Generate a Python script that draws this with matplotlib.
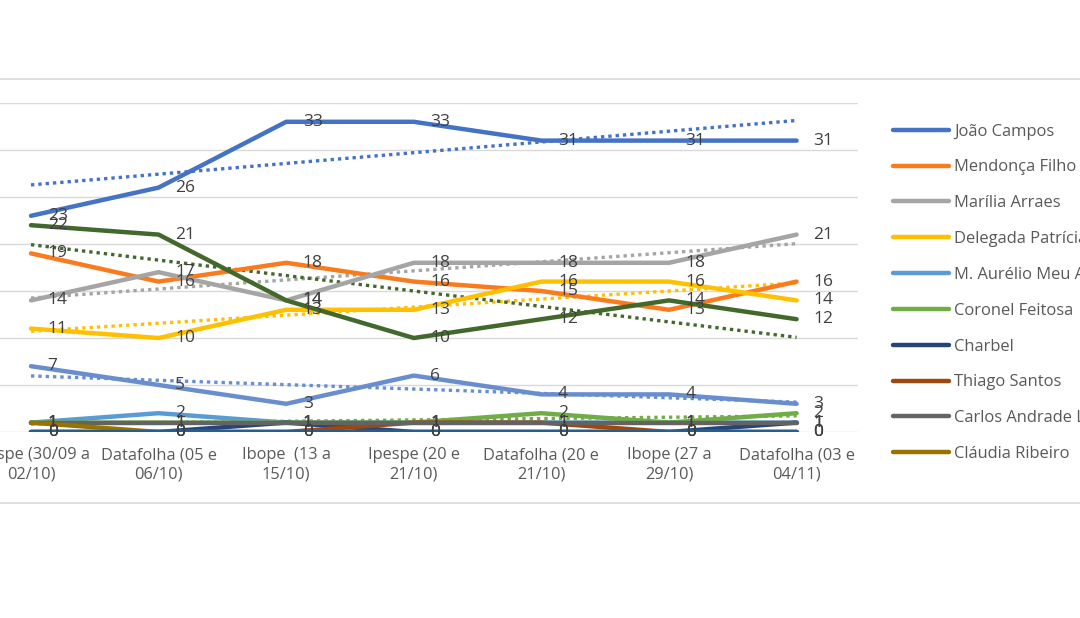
import numpy as np
import matplotlib
matplotlib.use("Agg")
import matplotlib.pyplot as plt
from matplotlib.lines import Line2D

plt.rcParams['font.family'] = ['Open Sans', 'DejaVu Sans']

categories = ["Ipespe (30/09 a\n02/10)", "Datafolha (05 e\n06/10)", "Ibope  (13 a\n15/10)",
              "Ipespe (20 e\n21/10)", "Datafolha (20 e\n21/10)", "Ibope (27 a\n29/10)",
              "Datafolha (03 e\n04/11)"]

joao_campos = [23, 26, 33, 33, 31, 31, 31]
mendonca_filho = [19, 16, 18, 16, 15, 13, 16]
marilia_arraes = [14, 17, 14, 18, 18, 18, 21]
delegada_patricia = [11, 10, 13, 13, 16, 16, 14]
m_aurelio = [1, 2, 1, 1, 1, 1, 1]
coronel_feitosa = [1, 1, 1, 1, 2, 1, 2]
charbel = [0, 0, 1, 0, 0, 0, 1]
thiago_santos = [0, 0, 0, 1, 1, 0, 0]
carlos_andrade = [1, 1, 1, 1, 1, 1, 1]
claudia_ribeiro = [1, 0, 0, 0, 0, 0, 0]
serie_11 = [0, 0, 0, 0, 0, 0, 0]
serie_12 = [22, 21, 14, 10, 12, 14, 12]
serie_13 = [7, 5, 3, 6, 4, 4, 3]

series = [
    ("João Campos", joao_campos, "#4472C4", True, True),
    ("Mendonça Filho", mendonca_filho, "#FA7A1E", True, False),
    ("Marília Arraes", marilia_arraes, "#A5A5A5", True, True),
    ("Delegada Patrícia", delegada_patricia, "#FFC000", True, True),
    ("M. Aurélio Meu Amigo", m_aurelio, "#5B9BD5", True, False),
    ("Coronel Feitosa", coronel_feitosa, "#70AD47", True, True),
    ("Charbel", charbel, "#264478", True, False),
    ("Thiago Santos", thiago_santos, "#9E480E", True, False),
    ("Carlos Andrade Lima", carlos_andrade, "#636363", True, False),
    ("Cláudia Ribeiro", claudia_ribeiro, "#997300", True, False),
    ("Série 11", serie_11, "#255E91", False, False),
    ("Série 12", serie_12, "#43682B", False, True),
    ("Série 13", serie_13, "#698ED0", False, True),
]

W, H = 1080, 618
fig = plt.figure(figsize=(W / 100, H / 100), dpi=100)
ax_left, ax_right = 0, 858
ax_bottom, ax_top = 432, 103
ax = fig.add_axes([ax_left / W, (H - ax_bottom) / H, (ax_right - ax_left) / W,
                   (ax_bottom - ax_top) / H])
x = np.arange(len(categories))
step = 127.6
ax.set_xlim(-31 / step, (ax_right - 31) / step)
ax.set_ylim(0, 35)
for s in ax.spines.values():
    s.set_visible(False)
ax.set_yticks(np.arange(0, 36, 5))
ax.tick_params(axis='y', left=False, labelleft=False)
ax.grid(axis='y', color='#D9D9D9', lw=1)
ax.set_axisbelow(True)
ax.set_xticks(x)
ax.set_xticklabels(categories, fontsize=11.8, color='#595959', linespacing=1.3)
ax.tick_params(axis='x', length=0, pad=11)

handles = []
for name, vals, color, in_leg, trend in series:
    ax.plot(x, vals, color=color, lw=3.2, solid_capstyle='round',
            solid_joinstyle='round', zorder=3)
    if in_leg:
        handles.append(Line2D([0], [0], color=color, lw=3.2, solid_capstyle='round', label=name))
    if trend:
        coef = np.polyfit(x, vals, 1)
        ax.plot(x, np.polyval(coef, x), color=color, lw=2.4, linestyle=(0, (1, 1.2)), zorder=2)
    for xi, v in zip(x, vals):
        ax.annotate(str(v), (xi, v), xytext=(12, 0), textcoords='offset points',
                    ha='left', va='center', fontsize=12.5, color='#404040', zorder=4,
                    annotation_clip=False)

fig.legend(handles=handles, loc='upper left', bbox_to_anchor=(886 / W, (H - 117) / H),
           frameon=False, fontsize=11.9, handlelength=3.4, handletextpad=0.3,
           labelspacing=1.2, labelcolor='#595959', borderaxespad=0)

for yy in (79, 503):
    fig.add_artist(Line2D([0, 1], [(H - yy) / H] * 2, color='#D9D9D9', lw=1.2,
                          transform=fig.transFigure))

fig.savefig("out.png", dpi=100, facecolor='white')
